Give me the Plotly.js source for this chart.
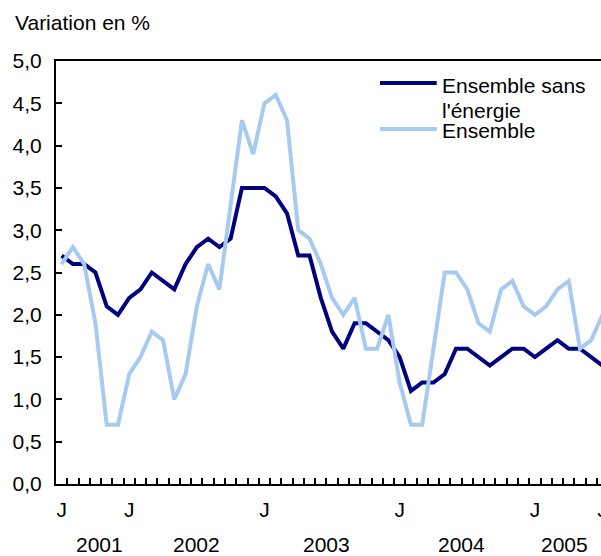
<!DOCTYPE html>
<html>
<head>
<meta charset="utf-8">
<script src="https://cdn.plot.ly/plotly-3.0.1.min.js"></script>
<style>
html, body { margin: 0; padding: 0; overflow: hidden; background: #fff; }
#chart { width: 620px; height: 556px; }
</style>
</head>
<body>
<div id="chart"></div>
<script>
// Monthly index: 0 = janvier 2001 ... 48 = janvier 2005
const months = Array.from({length: 49}, (_, i) => i);
const sansEnergie = [2.7,2.6,2.6,2.5,2.1,2.0,2.2,2.3,2.5,2.4,2.3,2.6,2.8,2.9,2.8,2.9,3.5,3.5,3.5,3.4,3.2,2.7,2.7,2.2,1.8,1.6,1.9,1.9,1.8,1.7,1.5,1.1,1.2,1.2,1.3,1.6,1.6,1.5,1.4,1.5,1.6,1.6,1.5,1.6,1.7,1.6,1.6,1.5,1.4];
const ensemble = [2.6,2.8,2.6,1.9,0.7,0.7,1.3,1.5,1.8,1.7,1.0,1.3,2.1,2.6,2.3,3.3,4.3,3.9,4.5,4.6,4.3,3.0,2.9,2.6,2.2,2.0,2.2,1.6,1.6,2.0,1.2,0.7,0.7,1.6,2.5,2.5,2.3,1.9,1.8,2.3,2.4,2.1,2.0,2.1,2.3,2.4,1.6,1.7,2.0];
const tickMonths = [0, 6, 18, 30, 42, 48];
const tickText = ['J', 'J', 'J', 'J', 'J', 'J'];
const yearLabels = ['2001', '2002', '2003', '2004', '2005'];
const yearPos = [3.4, 12.0, 23.5, 35.5, 44.6];
const seriesNames = ["Ensemble sans", "l'énergie", "Ensemble"];

const FONT = 'Liberation Sans, Arial, Helvetica, sans-serif';
const DARK = '#000080';
const LIGHT = '#A6CAF0';

const minorVals = [];
for (let i = -1; i < months.length; i++) minorVals.push(i + 0.5);

const traces = [
  {x: months, y: sansEnergie, type: 'scatter', mode: 'lines', name: "Ensemble sans l'énergie",
   line: {color: DARK, width: 4}, hoverinfo: 'skip'},
  {x: months, y: ensemble, type: 'scatter', mode: 'lines', name: 'Ensemble',
   line: {color: LIGHT, width: 4}, hoverinfo: 'skip'}
];

const annotations = [
  {text: 'Variation en %', xref: 'paper', yref: 'paper', x: -0.078, y: 1.092,
   xanchor: 'left', yanchor: 'middle', showarrow: false, font: {family: FONT, size: 21, color: '#000'}}
];
yearLabels.forEach((t, k) => annotations.push({
  text: t, xref: 'x', yref: 'paper', x: yearPos[k], y: -0.143,
  xanchor: 'center', yanchor: 'middle', showarrow: false, font: {family: FONT, size: 21, color: '#000'}
}));
// legend texts
annotations.push({text: seriesNames[0], xref: 'paper', yref: 'paper', x: 0.697, y: 0.942,
  xanchor: 'left', yanchor: 'middle', showarrow: false, font: {family: FONT, size: 21, color: '#000'}});
annotations.push({text: seriesNames[1], xref: 'paper', yref: 'paper', x: 0.697, y: 0.882,
  xanchor: 'left', yanchor: 'middle', showarrow: false, font: {family: FONT, size: 21, color: '#000'}});
annotations.push({text: seriesNames[2], xref: 'paper', yref: 'paper', x: 0.697, y: 0.836,
  xanchor: 'left', yanchor: 'middle', showarrow: false, font: {family: FONT, size: 21, color: '#000'}});

const shapes = [
  {type: 'line', xref: 'paper', yref: 'paper', x0: 0.588, x1: 0.691, y0: 0.948, y1: 0.948,
   line: {color: DARK, width: 4}},
  {type: 'line', xref: 'paper', yref: 'paper', x0: 0.588, x1: 0.691, y0: 0.839, y1: 0.839,
   line: {color: LIGHT, width: 4}}
];

const layout = {
  width: 620, height: 556,
  margin: {l: 56, r: 13, t: 61, b: 72, pad: 0},
  paper_bgcolor: '#fff', plot_bgcolor: '#fff',
  showlegend: false,
  separators: ', ',
  font: {family: FONT, size: 21, color: '#000'},
  xaxis: {
    range: [-0.5, 48.4], showgrid: false, zeroline: false,
    showline: true, linecolor: '#000', linewidth: 2, mirror: true,
    tickmode: 'array', tickvals: tickMonths, ticktext: tickText,
    ticks: 'inside', ticklen: 0, ticklabelstandoff: 6,
    tickfont: {family: FONT, size: 21, color: '#000'},
    minor: {tickmode: 'array', tickvals: minorVals, ticks: 'inside', ticklen: 6, tickwidth: 2, tickcolor: '#000', showgrid: false}
  },
  yaxis: {
    range: [0, 5], dtick: 0.5, tick0: 0, tickformat: '.1f',
    showgrid: false, zeroline: false, showline: true, linecolor: '#000', linewidth: 2,
    ticks: 'inside', ticklen: 6, tickwidth: 2, tickcolor: '#000', ticklabelstandoff: 8,
    tickfont: {family: FONT, size: 21, color: '#000'}
  },
  annotations: annotations,
  shapes: shapes
};

Plotly.newPlot('chart', traces, layout, {staticPlot: true, displayModeBar: false});
</script>
</body>
</html>
